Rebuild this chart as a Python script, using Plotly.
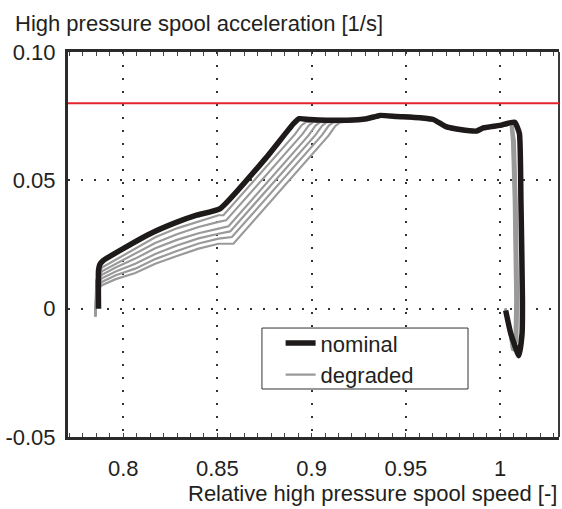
import plotly.graph_objects as go

# ---------------- data ----------------
limit_accel = 0.08

nominal_x = [0.7869, 0.7869, 0.7876, 0.7895, 0.8000, 0.8143, 0.8285, 0.8390, 0.8515,
             0.8762, 0.8904, 0.8935, 0.8990, 0.9187, 0.9293, 0.9363, 0.9452, 0.9576,
             0.9646, 0.9717, 0.9788, 0.9876, 0.9911, 1.0000, 1.0078, 1.0103, 1.0111,
             1.0119, 1.0117, 1.0100, 1.0057, 1.0030]
nominal_y = [0.0000, 0.0149, 0.0172, 0.0188, 0.0234, 0.0292, 0.0337, 0.0364, 0.0390,
             0.0591, 0.0721, 0.0740, 0.0737, 0.0734, 0.0740, 0.0753, 0.0749, 0.0744,
             0.0737, 0.0708, 0.0698, 0.0692, 0.0704, 0.0714, 0.0727, 0.0682, 0.0422,
             0.0032, -0.0097, -0.0183, -0.0097, -0.0007]

deg1_x = [0.7852, 0.7857, 0.7887, 0.7960, 0.8064, 0.8170, 0.8285, 0.8400, 0.8506, 0.8532,
          0.8911, 0.8946, 0.8971, 0.9187, 0.9293, 0.9363, 0.9452, 0.9576, 0.9646, 0.9717,
          0.9788, 0.9876, 0.9911, 1.0000, 1.0066, 1.0079, 1.0088, 1.0096, 1.0092, 1.0074,
          1.0042, 1.0030]
deg1_y = [-0.0030, 0.0110, 0.0160, 0.0190, 0.0234, 0.0278, 0.0313, 0.0341, 0.0364, 0.0364,
          0.0679, 0.0714, 0.0728, 0.0731, 0.0737, 0.0750, 0.0746, 0.0741, 0.0734, 0.0705,
          0.0695, 0.0690, 0.0702, 0.0711, 0.0720, 0.0650, 0.0420, 0.0030, -0.0120, -0.0165,
          -0.0035, 0.0000]

deg2_x = [0.7852, 0.7858, 0.7887, 0.7960, 0.8064, 0.8170, 0.8285, 0.8400, 0.8506, 0.8546,
          0.8950, 0.8985, 0.9010, 0.9187, 0.9293, 0.9363, 0.9452, 0.9576, 0.9646, 0.9717,
          0.9788, 0.9876, 0.9911, 1.0000, 1.0064, 1.0076, 1.0085, 1.0093, 1.0089, 1.0072,
          1.0041, 1.0030]
deg2_y = [-0.0030, 0.0102, 0.0146, 0.0175, 0.0214, 0.0256, 0.0290, 0.0318, 0.0338, 0.0344,
          0.0679, 0.0714, 0.0728, 0.0731, 0.0737, 0.0750, 0.0746, 0.0741, 0.0734, 0.0705,
          0.0695, 0.0690, 0.0702, 0.0711, 0.0720, 0.0650, 0.0420, 0.0030, -0.0122, -0.0165,
          -0.0034, 0.0000]

deg3_x = [0.7852, 0.7859, 0.7887, 0.7960, 0.8064, 0.8170, 0.8285, 0.8400, 0.8506, 0.8559,
          0.8985, 0.9020, 0.9045, 0.9187, 0.9293, 0.9363, 0.9452, 0.9576, 0.9646, 0.9717,
          0.9788, 0.9876, 0.9911, 1.0000, 1.0062, 1.0073, 1.0082, 1.0090, 1.0086, 1.0070,
          1.0040, 1.0029]
deg3_y = [-0.0030, 0.0095, 0.0132, 0.0160, 0.0195, 0.0235, 0.0268, 0.0294, 0.0312, 0.0321,
          0.0676, 0.0713, 0.0727, 0.0730, 0.0736, 0.0749, 0.0745, 0.0740, 0.0733, 0.0704,
          0.0694, 0.0689, 0.0701, 0.0710, 0.0719, 0.0650, 0.0420, 0.0030, -0.0123, -0.0164,
          -0.0034, 0.0000]

deg4_x = [0.7852, 0.7860, 0.7887, 0.7960, 0.8064, 0.8170, 0.8285, 0.8400, 0.8506, 0.8568,
          0.9021, 0.9056, 0.9081, 0.9187, 0.9293, 0.9363, 0.9452, 0.9576, 0.9646, 0.9717,
          0.9788, 0.9876, 0.9911, 1.0000, 1.0060, 1.0070, 1.0079, 1.0087, 1.0083, 1.0068,
          1.0039, 1.0029]
deg4_y = [-0.0030, 0.0088, 0.0118, 0.0145, 0.0175, 0.0213, 0.0246, 0.0274, 0.0292, 0.0301,
          0.0677, 0.0713, 0.0727, 0.0730, 0.0736, 0.0749, 0.0745, 0.0740, 0.0733, 0.0704,
          0.0694, 0.0689, 0.0701, 0.0710, 0.0719, 0.0650, 0.0420, 0.0030, -0.0124, -0.0163,
          -0.0033, 0.0000]

deg5_x = [0.7852, 0.7861, 0.7887, 0.7960, 0.8064, 0.8170, 0.8285, 0.8400, 0.8506, 0.8577,
          0.9056, 0.9091, 0.9116, 0.9187, 0.9293, 0.9363, 0.9452, 0.9576, 0.9646, 0.9717,
          0.9788, 0.9876, 0.9911, 1.0000, 1.0058, 1.0067, 1.0076, 1.0084, 1.0080, 1.0066,
          1.0038, 1.0028]
deg5_y = [-0.0030, 0.0082, 0.0104, 0.0130, 0.0156, 0.0193, 0.0225, 0.0254, 0.0273, 0.0279,
          0.0677, 0.0713, 0.0726, 0.0729, 0.0735, 0.0748, 0.0744, 0.0739, 0.0732, 0.0703,
          0.0693, 0.0688, 0.0700, 0.0709, 0.0718, 0.0650, 0.0420, 0.0030, -0.0125, -0.0162,
          -0.0033, 0.0000]

deg6_x = [0.7852, 0.7862, 0.7887, 0.7960, 0.8064, 0.8170, 0.8285, 0.8400, 0.8506, 0.8585,
          0.9091, 0.9126, 0.9151, 0.9187, 0.9293, 0.9363, 0.9452, 0.9576, 0.9646, 0.9717,
          0.9788, 0.9876, 0.9911, 1.0000, 1.0056, 1.0064, 1.0073, 1.0081, 1.0077, 1.0064,
          1.0037, 1.0028]
deg6_y = [-0.0030, 0.0076, 0.0091, 0.0115, 0.0139, 0.0175, 0.0205, 0.0234, 0.0253, 0.0253,
          0.0675, 0.0712, 0.0726, 0.0729, 0.0735, 0.0748, 0.0744, 0.0739, 0.0732, 0.0703,
          0.0693, 0.0688, 0.0700, 0.0709, 0.0718, 0.0650, 0.0420, 0.0030, -0.0126, -0.0161,
          -0.0032, 0.0000]

degraded_x = [deg1_x, deg2_x, deg3_x, deg4_x, deg5_x, deg6_x]
degraded_y = [deg1_y, deg2_y, deg3_y, deg4_y, deg5_y, deg6_y]

x_tickvals = [0.8, 0.85, 0.9, 0.95, 1.0]
x_ticktext = ["0.8", "0.85", "0.9", "0.95", "1"]
y_tickvals = [-0.05, 0.0, 0.05, 0.10]
y_ticktext = ["-0.05", "0", "0.05", "0.10"]

series_names = ["nominal", "degraded"]
y_title = "High pressure spool acceleration [1/s]"
x_title = "Relative high pressure spool speed [-]"

# ---------------- figure ----------------
FONT = "Liberation Sans, Arial, Helvetica, sans-serif"
TXT = "#231f20"
FS = 22

fig = go.Figure()

for i, (dx, dy) in enumerate(zip(degraded_x, degraded_y)):
    fig.add_trace(go.Scatter(
        x=dx, y=dy, mode="lines", name=series_names[1],
        legendgroup="deg", showlegend=(i == 0),
        line=dict(color="#9a9a9a", width=2.2),
        hoverinfo="skip",
    ))

fig.add_trace(go.Scatter(
    x=nominal_x, y=nominal_y, mode="lines", name=series_names[0],
    line=dict(color="#1e1a1a", width=5.5, shape="spline", smoothing=0.4),
    legendrank=1,
))

fig.update_layout(
    width=562, height=509,
    margin=dict(l=68, r=3, t=52, b=72),
    paper_bgcolor="white", plot_bgcolor="white",
    font=dict(family=FONT, size=FS, color=TXT),
    showlegend=True,
    legend=dict(
        x=0.433, xanchor="left", y=0.298, yanchor="top",
        bgcolor="rgba(0,0,0,0)", borderwidth=0,
        font=dict(size=FS, color=TXT),
        tracegroupgap=0, itemwidth=30,
        traceorder="normal",
    ),
    title=dict(text=y_title, x=15 / 562, xanchor="left", xref="container",
               y=1 - 23 / 509, yanchor="middle", yref="container",
               font=dict(size=FS, color=TXT)),
    annotations=[dict(text=x_title, xref="paper", yref="paper", x=1.0, y=-0.146,
                      xanchor="right", yanchor="middle", showarrow=False,
                      font=dict(size=FS, color=TXT))],
)

fig.update_xaxes(
    range=[0.7707, 1.0313], tickvals=x_tickvals, ticktext=x_ticktext,
    showgrid=True, gridcolor="#333", gridwidth=1.5, griddash="2px,11px",
    zeroline=False, showline=True, linecolor="#2a2a2a", linewidth=2.5,
    ticks="", ticklabelstandoff=10,
    minor=dict(ticks="inside", ticklen=4, tickcolor="#444", tickwidth=1,
               dtick=0.05 / 7, showgrid=False),
    mirror="allticks",
)
fig.update_yaxes(
    range=[-0.05, 0.10], tickvals=y_tickvals, ticktext=y_ticktext,
    showgrid=True, gridcolor="#333", gridwidth=1.5, griddash="2px,11px",
    zeroline=False, showline=True, linecolor="#2a2a2a", linewidth=3,
    ticks="", ticklabelstandoff=5,
)

# right frame line, the limit line and the legend box
fig.add_shape(type="line", xref="paper", yref="paper", x0=1, x1=1, y0=0, y1=1,
              line=dict(color="#3a3a3a", width=2))
fig.add_shape(type="line", xref="paper", yref="y", x0=0, x1=1,
              y0=limit_accel, y1=limit_accel, line=dict(color="#e3232b", width=2))
fig.add_shape(type="rect", xref="paper", yref="paper",
              x0=0.395, x1=0.8147, y0=0.1247, y1=0.283,
              fillcolor="white", line=dict(color="#333", width=1), layer="above")

fig.write_html(
    "out.html",
    config={"displayModeBar": False},
    post_script="document.body.style.margin='0';document.body.style.overflow='hidden';",
)
